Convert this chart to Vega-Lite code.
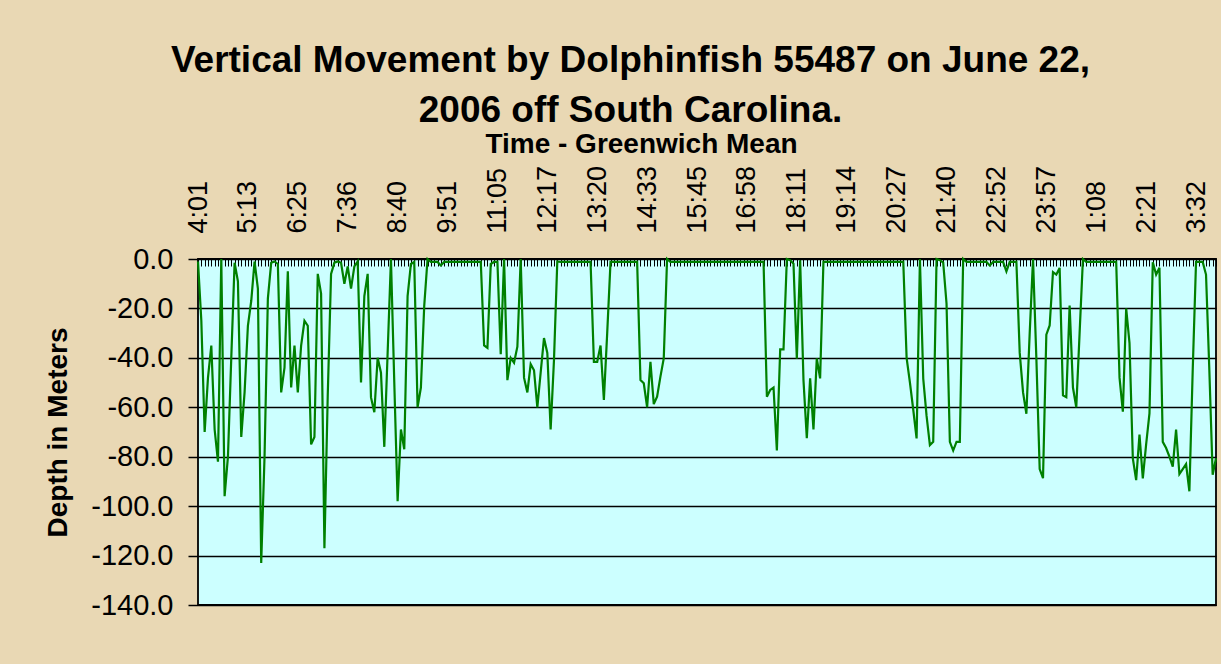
{
  "$schema": "https://vega.github.io/schema/vega-lite/v6.json",
  "width": 1018,
  "height": 346,
  "autosize": {"type": "none"},
  "padding": {"left": 198, "top": 259, "right": 5, "bottom": 59},
  "background": "#E9D8B4",
  "title": {
    "text": ["Vertical Movement by Dolphinfish 55487 on June 22,", "2006 off South Carolina."],
    "font": "Liberation Sans",
    "fontSize": 37,
    "fontWeight": "bold",
    "color": "#000000",
    "anchor": "middle",
    "frame": "bounds",
    "lineHeight": 50,
    "offset": 0,
    "dx": -6
  },
  "data": {
    "values": [
      {"time":"4:01","depth":-1},{"time":"4:06","depth":-25},{"time":"4:11","depth":-70},{"time":"4:16","depth":-48},{"time":"4:21","depth":-35},
      {"time":"4:25","depth":-69},{"time":"4:30","depth":-82},{"time":"4:35","depth":0},{"time":"4:40","depth":-96},{"time":"4:45","depth":-80},
      {"time":"4:49","depth":-40},{"time":"4:54","depth":-1.5},{"time":"4:59","depth":-9},{"time":"5:04","depth":-72},{"time":"5:09","depth":-54},
      {"time":"5:13","depth":-27},{"time":"5:18","depth":-17},{"time":"5:23","depth":-1},{"time":"5:28","depth":-12},{"time":"5:33","depth":-123},
      {"time":"5:37","depth":-80},{"time":"5:42","depth":-16},{"time":"5:47","depth":-1.5},{"time":"5:52","depth":-1},{"time":"5:57","depth":-2},
      {"time":"6:01","depth":-54},{"time":"6:06","depth":-44},{"time":"6:11","depth":-5},{"time":"6:16","depth":-52},{"time":"6:21","depth":-35},
      {"time":"6:25","depth":-54},{"time":"6:30","depth":-35},{"time":"6:35","depth":-25},{"time":"6:40","depth":-27},{"time":"6:45","depth":-75},
      {"time":"6:49","depth":-72},{"time":"6:54","depth":-6},{"time":"6:59","depth":-14},{"time":"7:04","depth":-117},{"time":"7:09","depth":-55},
      {"time":"7:13","depth":-6},{"time":"7:18","depth":-1.5},{"time":"7:23","depth":-1},{"time":"7:28","depth":-1.5},{"time":"7:32","depth":-10},
      {"time":"7:36","depth":-3},{"time":"7:40","depth":-12},{"time":"7:44","depth":-3},{"time":"7:49","depth":-1},{"time":"7:53","depth":-50},
      {"time":"7:57","depth":-15},{"time":"8:01","depth":-6},{"time":"8:06","depth":-56},{"time":"8:10","depth":-62},{"time":"8:14","depth":-40},
      {"time":"8:18","depth":-46},{"time":"8:23","depth":-76},{"time":"8:27","depth":-38},{"time":"8:31","depth":0},{"time":"8:36","depth":-50},
      {"time":"8:40","depth":-98},{"time":"8:45","depth":-69},{"time":"8:50","depth":-77},{"time":"8:55","depth":-15},{"time":"9:00","depth":-2},
      {"time":"9:04","depth":-1.2},{"time":"9:09","depth":-60},{"time":"9:14","depth":-52},{"time":"9:19","depth":-19},{"time":"9:24","depth":0},
      {"time":"9:28","depth":-1.2},{"time":"9:33","depth":-1.2},{"time":"9:38","depth":-1.2},{"time":"9:43","depth":-2.6},{"time":"9:47","depth":-1.2},
      {"time":"9:51","depth":-1.2},{"time":"9:56","depth":-1.2},{"time":"10:01","depth":-1.2},{"time":"10:06","depth":-1.2},{"time":"10:11","depth":-1.2},
      {"time":"10:16","depth":-1.2},{"time":"10:21","depth":-1.2},{"time":"10:26","depth":-1.2},{"time":"10:31","depth":-1.2},{"time":"10:36","depth":-1.2},
      {"time":"10:40","depth":-1.2},{"time":"10:45","depth":-35},{"time":"10:50","depth":-36},{"time":"10:55","depth":-2},{"time":"11:00","depth":-1.2},
      {"time":"11:05","depth":-1.2},{"time":"11:10","depth":-38.5},{"time":"11:15","depth":0},{"time":"11:20","depth":-49},{"time":"11:25","depth":-40},
      {"time":"11:29","depth":-42},{"time":"11:34","depth":-35.5},{"time":"11:39","depth":0},{"time":"11:44","depth":-48},{"time":"11:49","depth":-54},
      {"time":"11:53","depth":-42.5},{"time":"11:58","depth":-45},{"time":"12:03","depth":-60},{"time":"12:08","depth":-46},{"time":"12:13","depth":-32},
      {"time":"12:17","depth":-38},{"time":"12:21","depth":-69},{"time":"12:25","depth":-41},{"time":"12:30","depth":-1},{"time":"12:34","depth":-1.2},
      {"time":"12:38","depth":-1.2},{"time":"12:42","depth":-1.2},{"time":"12:47","depth":-1.2},{"time":"12:51","depth":-1.2},{"time":"12:55","depth":-1.2},
      {"time":"12:59","depth":-1.2},{"time":"13:04","depth":-1.2},{"time":"13:08","depth":-1.2},{"time":"13:12","depth":-1.2},{"time":"13:16","depth":-41.6},
      {"time":"13:20","depth":-41.6},{"time":"13:25","depth":-35},{"time":"13:30","depth":-57},{"time":"13:35","depth":-30},{"time":"13:40","depth":-1.2},
      {"time":"13:44","depth":-1.2},{"time":"13:49","depth":-1.2},{"time":"13:54","depth":-1.2},{"time":"13:59","depth":-1.2},{"time":"14:04","depth":-1.2},
      {"time":"14:09","depth":-1.2},{"time":"14:14","depth":-1.2},{"time":"14:19","depth":-1.2},{"time":"14:24","depth":-49},{"time":"14:29","depth":-50.3},
      {"time":"14:33","depth":-60},{"time":"14:38","depth":-41.6},{"time":"14:43","depth":-58.7},{"time":"14:48","depth":-55.7},{"time":"14:53","depth":-47.6},
      {"time":"14:57","depth":-40.2},{"time":"15:02","depth":0},{"time":"15:07","depth":-1.2},{"time":"15:12","depth":-1.2},{"time":"15:17","depth":-1.2},
      {"time":"15:21","depth":-1.2},{"time":"15:26","depth":-1.2},{"time":"15:31","depth":-1.2},{"time":"15:36","depth":-1.2},{"time":"15:41","depth":-1.2},
      {"time":"15:45","depth":-1.2},{"time":"15:50","depth":-1.2},{"time":"15:55","depth":-1.2},{"time":"16:00","depth":-1.2},{"time":"16:05","depth":-1.2},
      {"time":"16:09","depth":-1.2},{"time":"16:14","depth":-1.2},{"time":"16:19","depth":-1.2},{"time":"16:24","depth":-1.2},{"time":"16:29","depth":-1.2},
      {"time":"16:34","depth":-1.2},{"time":"16:39","depth":-1.2},{"time":"16:44","depth":-1.2},{"time":"16:49","depth":-1.2},{"time":"16:54","depth":-1.2},
      {"time":"16:58","depth":-1.2},{"time":"17:03","depth":-1.2},{"time":"17:08","depth":-1.2},{"time":"17:13","depth":-1.2},{"time":"17:18","depth":-1.2},
      {"time":"17:22","depth":-1.2},{"time":"17:27","depth":-55.7},{"time":"17:32","depth":-53},{"time":"17:37","depth":-52},{"time":"17:42","depth":-77.5},
      {"time":"17:47","depth":-36.6},{"time":"17:52","depth":-36.6},{"time":"17:57","depth":0},{"time":"18:02","depth":-0.5},{"time":"18:07","depth":-1.9},
      {"time":"18:11","depth":-40.3},{"time":"18:15","depth":-0.5},{"time":"18:19","depth":-49},{"time":"18:24","depth":-72.5},{"time":"18:28","depth":-48.3},
      {"time":"18:32","depth":-69},{"time":"18:36","depth":-40.2},{"time":"18:41","depth":-48.3},{"time":"18:45","depth":-1.2},{"time":"18:49","depth":-1.2},
      {"time":"18:53","depth":-1.2},{"time":"18:58","depth":-1.2},{"time":"19:02","depth":-1.2},{"time":"19:06","depth":-1.2},{"time":"19:10","depth":-1.2},
      {"time":"19:14","depth":-1.2},{"time":"19:19","depth":-1.2},{"time":"19:24","depth":-1.2},{"time":"19:29","depth":-1.2},{"time":"19:34","depth":-1.2},
      {"time":"19:38","depth":-1.2},{"time":"19:43","depth":-1.2},{"time":"19:48","depth":-1.2},{"time":"19:53","depth":-1.2},{"time":"19:58","depth":-1.2},
      {"time":"20:03","depth":-1.2},{"time":"20:08","depth":-1.2},{"time":"20:13","depth":-1.2},{"time":"20:18","depth":-1.2},{"time":"20:23","depth":-1.2},
      {"time":"20:27","depth":-1.2},{"time":"20:32","depth":-1.2},{"time":"20:37","depth":-1.2},{"time":"20:42","depth":-40},{"time":"20:47","depth":-50},
      {"time":"20:51","depth":-61},{"time":"20:56","depth":-72.6},{"time":"21:01","depth":0},{"time":"21:06","depth":-48.4},{"time":"21:11","depth":-63.5},
      {"time":"21:16","depth":-75.3},{"time":"21:21","depth":-74},{"time":"21:26","depth":0},{"time":"21:31","depth":-0.5},{"time":"21:36","depth":-1.5},
      {"time":"21:40","depth":-18},{"time":"21:45","depth":-74},{"time":"21:50","depth":-77.5},{"time":"21:55","depth":-74},{"time":"22:00","depth":-74},
      {"time":"22:04","depth":0},{"time":"22:09","depth":-1.2},{"time":"22:14","depth":-1.2},{"time":"22:19","depth":-1.2},{"time":"22:24","depth":-1.2},
      {"time":"22:28","depth":-1.2},{"time":"22:33","depth":-1.2},{"time":"22:38","depth":-1.2},{"time":"22:43","depth":-2.6},{"time":"22:48","depth":-1.2},
      {"time":"22:52","depth":-1.2},{"time":"22:56","depth":-1.2},{"time":"23:01","depth":-1.2},{"time":"23:05","depth":-5},{"time":"23:09","depth":-1.2},
      {"time":"23:14","depth":-1.2},{"time":"23:18","depth":-1.2},{"time":"23:22","depth":-38},{"time":"23:27","depth":-54},{"time":"23:31","depth":-62.6},
      {"time":"23:35","depth":-30},{"time":"23:40","depth":0},{"time":"23:44","depth":-40},{"time":"23:48","depth":-85},{"time":"23:53","depth":-88.7},
      {"time":"23:57","depth":-30.6},{"time":"0:02","depth":-26.9},{"time":"0:07","depth":-5.3},{"time":"0:12","depth":-6.3},{"time":"0:17","depth":-3.6},
      {"time":"0:21","depth":-55.2},{"time":"0:26","depth":-55.9},{"time":"0:31","depth":-18.8},{"time":"0:36","depth":-52},{"time":"0:41","depth":-60},
      {"time":"0:45","depth":-30},{"time":"0:50","depth":0},{"time":"0:55","depth":-1.2},{"time":"1:00","depth":-1.2},{"time":"1:04","depth":-1.2},
      {"time":"1:08","depth":-1.2},{"time":"1:13","depth":-1.2},{"time":"1:18","depth":-1.2},{"time":"1:23","depth":-1.2},{"time":"1:28","depth":-1.2},
      {"time":"1:32","depth":-1.2},{"time":"1:37","depth":-1.2},{"time":"1:42","depth":-48},{"time":"1:47","depth":-61.8},{"time":"1:52","depth":-20},
      {"time":"1:57","depth":-34},{"time":"2:02","depth":-80.7},{"time":"2:07","depth":-89.5},{"time":"2:12","depth":-71},{"time":"2:17","depth":-88.8},
      {"time":"2:21","depth":-75},{"time":"2:26","depth":-62.5},{"time":"2:31","depth":-1.3},{"time":"2:36","depth":-6.3},{"time":"2:41","depth":-3.5},
      {"time":"2:45","depth":-74},{"time":"2:50","depth":-76.5},{"time":"2:55","depth":-80},{"time":"3:00","depth":-84},{"time":"3:05","depth":-69},
      {"time":"3:09","depth":-87},{"time":"3:14","depth":-85},{"time":"3:19","depth":-83},{"time":"3:24","depth":-94},{"time":"3:28","depth":-45},
      {"time":"3:32","depth":-1.2},{"time":"3:37","depth":-1.2},{"time":"3:42","depth":-1.2},{"time":"3:46","depth":-6.3},{"time":"3:51","depth":-45},
      {"time":"3:56","depth":-87.3},{"time":"4:00","depth":-80.6}
    ]
  },
  "mark": {"type": "line", "color": "#008000", "strokeWidth": 2.2},
  "encoding": {
    "x": {
      "field": "time",
      "type": "ordinal",
      "sort": null,
      "scale": {"type": "point", "padding": 0},
      "axis": {
        "orient": "top",
        "title": "Time - Greenwich Mean",
        "titleFont": "Liberation Sans",
        "titleFontSize": 28,
        "titleFontWeight": "bold",
        "titleColor": "#000000",
        "titleX": 443,
        "titleY": -115,
        "titleBaseline": "middle",
        "titleAlign": "center",
        "labelAngle": -90,
        "labelFont": "Liberation Sans",
        "labelFontSize": 27,
        "labelColor": "#000000",
        "labelOverlap": false,
        "labelPadding": 33,
        "labelExpr": "indexof(['4:01','5:13','6:25','7:36','8:40','9:51','11:05','12:17','13:20','14:33','15:45','16:58','18:11','19:14','20:27','21:40','22:52','23:57','1:08','2:21','3:32'], datum.value) >= 0 ? datum.value : ''",
        "tickSize": -7,
        "tickColor": "#000000",
        "tickWidth": 1,
        "domain": false,
        "grid": false
      }
    },
    "y": {
      "field": "depth",
      "type": "quantitative",
      "scale": {"domain": [-140, 0], "nice": false, "zero": false},
      "axis": {
        "title": "Depth in Meters",
        "titleFont": "Liberation Sans",
        "titleFontSize": 28,
        "titleFontWeight": "bold",
        "titleColor": "#000000",
        "titleX": -140,
        "titleY": 173,
        "titleAngle": 270,
        "titleBaseline": "middle",
        "titleAlign": "center",
        "values": [0, -20, -40, -60, -80, -100, -120, -140],
        "labelExpr": "datum.value === 0 ? '0.0' : datum.value + '.0'",
        "labelFont": "Liberation Sans",
        "labelFontSize": 29,
        "labelColor": "#000000",
        "labelPadding": 15,
        "tickSize": 10,
        "tickColor": "#000000",
        "tickWidth": 1.5,
        "domain": false,
        "grid": true,
        "gridColor": "#000000",
        "gridWidth": 1.3,
        "gridOpacity": 1
      }
    }
  },
  "config": {
    "view": {"fill": "#CCFFFF", "stroke": "#000000", "strokeWidth": 1.8}
  }
}
